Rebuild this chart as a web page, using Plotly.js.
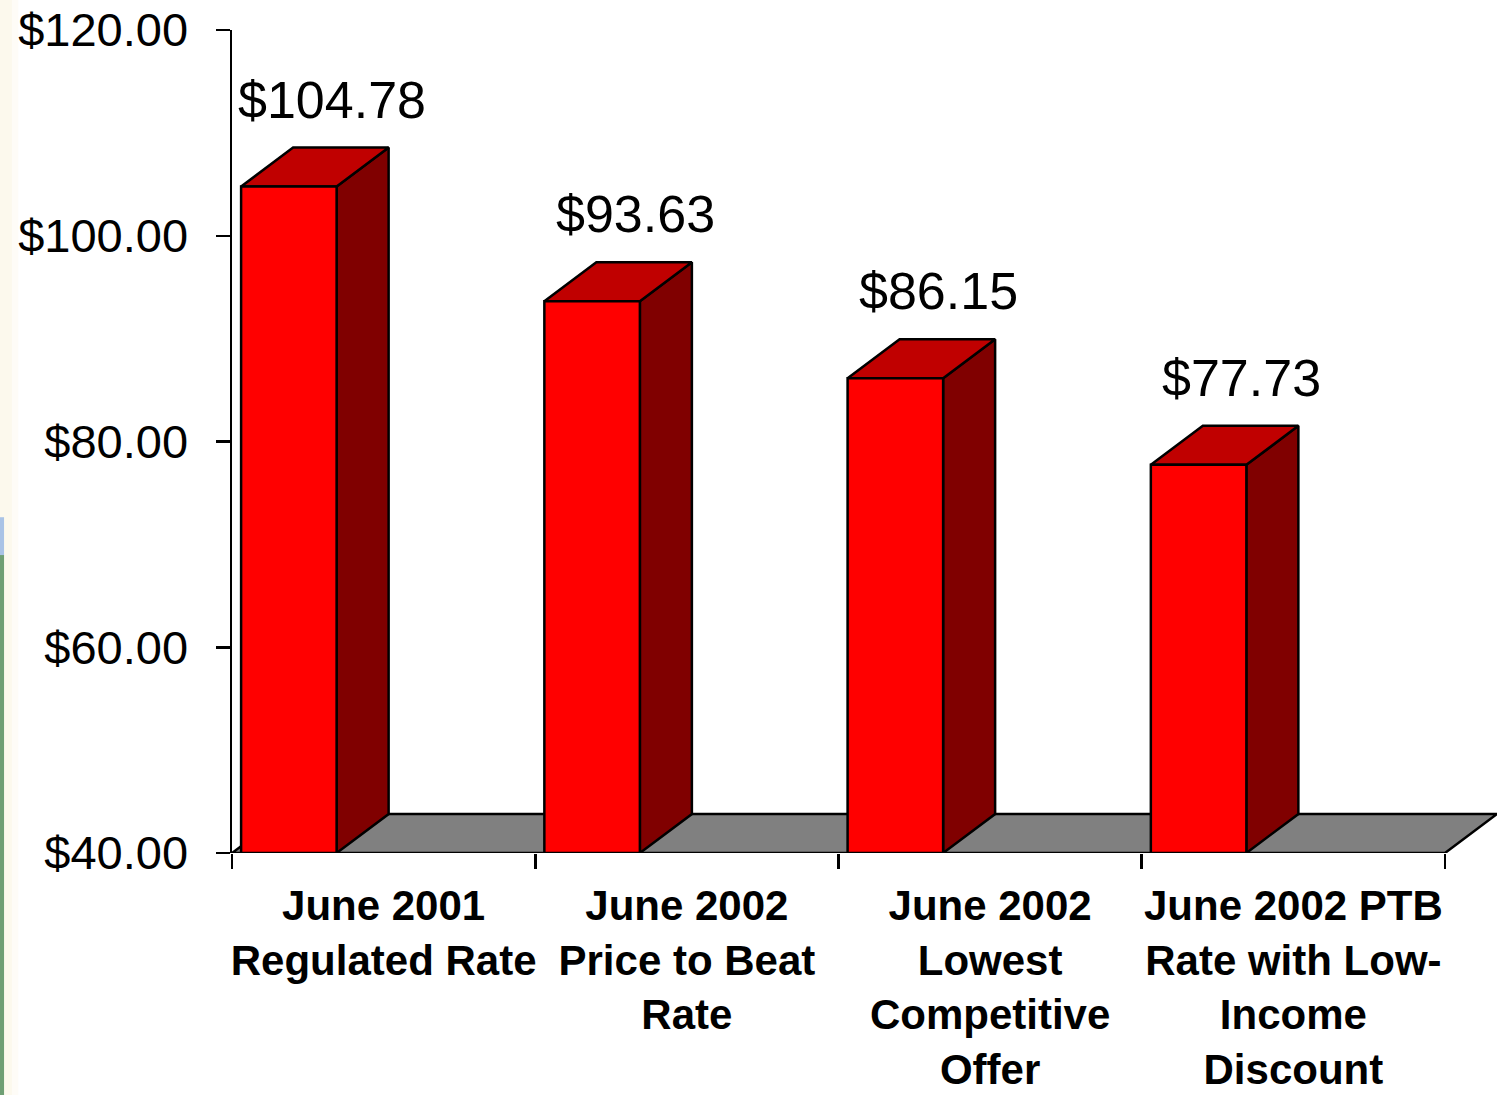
<!DOCTYPE html>
<html>
<head>
<meta charset="utf-8">
<script src="https://cdn.plot.ly/plotly-3.0.1.min.js"></script>
<style>
  html, body { margin: 0; padding: 0; background: #ffffff; }
  #chart { width: 1506px; height: 1095px; }
</style>
</head>
<body>
<div id="chart"></div>
<script>
// ---- data ----
const categories = [
  "June 2001<br>Regulated Rate",
  "June 2002<br>Price to Beat<br>Rate",
  "June 2002<br>Lowest<br>Competitive<br>Offer",
  "June 2002 PTB<br>Rate with Low-<br>Income<br>Discount"
];
const values = [104.78, 93.63, 86.15, 77.73];
const yTicks = [40, 60, 80, 100, 120];

// ---- geometry / style (not data) ----
const baseY = 40;
const barOffset = 0.03;
const barWidth = 0.315;
const depthX = 0.1715;   // category units
const depthY = 3.79;     // value units
const nCat = categories.length;

const traces = [];
function poly(xs, ys, fill) {
  traces.push({
    type: 'scatter', mode: 'lines',
    x: xs.concat([xs[0]]), y: ys.concat([ys[0]]),
    fill: 'toself', fillcolor: fill,
    line: { color: '#000000', width: 2.5 },
    hoverinfo: 'skip', showlegend: false
  });
}

// floor
poly([0, nCat, nCat + depthX, depthX],
     [baseY, baseY, baseY + depthY, baseY + depthY], '#808080');

// bars
values.forEach((v, i) => {
  const x0 = i + barOffset, x1 = x0 + barWidth;
  // side
  poly([x1, x1 + depthX, x1 + depthX, x1],
       [baseY, baseY + depthY, v + depthY, v], '#800000');
  // top
  poly([x0, x1, x1 + depthX, x0 + depthX],
       [v, v, v + depthY, v + depthY], '#C00000');
  // front
  poly([x0, x1, x1, x0], [baseY, baseY, v, v], '#FF0000');
});

const annotations = values.map((v, i) => ({
  x: i + 0.33, y: v + depthY, xref: 'x', yref: 'y',
  text: '$' + v.toFixed(2), showarrow: false,
  xanchor: 'center', yanchor: 'middle', yshift: 48,
  font: { family: 'Liberation Sans, Arial, sans-serif', size: 52, color: '#000000' }
}));

const catCenters = categories.map((c, i) => i + 0.5);
const boundaries = [];
for (let i = 0; i <= nCat; i++) boundaries.push(i);

const shapes = [
  { type: 'rect', xref: 'paper', yref: 'paper', x0: -0.1834, x1: -0.1740, y0: -0.30, y1: 1.05,
    fillcolor: 'rgba(250,244,222,0.55)', line: { width: 0 }, layer: 'below' },
  { type: 'rect', xref: 'paper', yref: 'paper', x0: -0.1740, x1: -0.1690, y0: -0.30, y1: 1.05,
    fillcolor: 'rgba(250,244,222,0.25)', line: { width: 0 }, layer: 'below' },
  { type: 'rect', xref: 'paper', yref: 'paper', x0: -0.1834, x1: -0.1802, y0: -0.30, y1: 0.362,
    fillcolor: '#6f9f74', line: { width: 0 } },
  { type: 'rect', xref: 'paper', yref: 'paper', x0: -0.1834, x1: -0.1802, y0: 0.362, y1: 0.408,
    fillcolor: '#a9c3e6', line: { width: 0 } }
];

const layout = {
  width: 1506, height: 1095,
  margin: { l: 232, r: 9, t: 30, b: 242 },
  paper_bgcolor: '#ffffff', plot_bgcolor: 'rgba(0,0,0,0)',
  showlegend: false,
  font: { family: 'Liberation Sans, Arial, sans-serif', color: '#000000' },
  xaxis: {
    type: 'linear', range: [0, nCat + depthX], fixedrange: true,
    showgrid: false, zeroline: false, showline: false,
    tickmode: 'array', tickvals: catCenters, ticktext: categories,
    ticks: '', ticklabelstandoff: 24,
    tickfont: { family: 'Liberation Sans, Arial, sans-serif', size: 42, color: '#000000', weight: 'bold' },
    minor: { tickmode: 'array', tickvals: boundaries, ticks: 'outside', ticklen: 15, tickwidth: 2.5, tickcolor: '#000000', showgrid: false }
  },
  yaxis: {
    range: [40, 120], fixedrange: true,
    showgrid: false, zeroline: false,
    showline: true, linecolor: '#000000', linewidth: 2.5,
    tickmode: 'array', tickvals: yTicks, tickformat: '$.2f',
    ticks: 'outside', ticklen: 14, tickwidth: 2.5, tickcolor: '#000000',
    ticklabelstandoff: 18,
    tickfont: { family: 'Liberation Sans, Arial, sans-serif', size: 47, color: '#000000' }
  },
  annotations: annotations,
  shapes: shapes
};

Plotly.newPlot('chart', traces, layout, { staticPlot: true, displayModeBar: false });
</script>
</body>
</html>
